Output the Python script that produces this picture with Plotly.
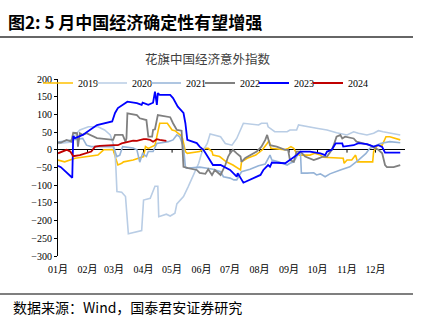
import plotly.graph_objects as go

# ---- data (x = day of year, 0 = Jan 1) ----
month_ticks = [0, 31, 59, 90, 120, 151, 181, 212, 243, 273, 304, 334]
month_labels = ["01月", "02月", "03月", "04月", "05月", "06月", "07月", "08月", "09月", "10月", "11月", "12月"]

day_2019 = [0, 7, 18, 32, 42, 48, 57, 58, 61, 63, 67, 69, 79, 86, 90, 92, 95, 102, 104, 107, 115, 118, 120, 123, 129, 131, 134,
            136, 149, 154, 158, 162, 163, 170, 177, 184, 190, 192, 193, 199, 208, 215, 220, 222, 224, 238, 242, 245, 248, 251,
            254, 265, 270, 276, 279, 293, 300, 301, 304, 309, 313, 315, 331, 332, 336, 341, 345, 349, 355, 360]
val_2019 = [-29, -34, -24, -18, -15, 0, 0, 1, -27, -43, -38, -34, -29, -24, -19, 9, 4, 13, 35, 75, 75, 65, 56, 54, 41, 32, -5,
            -10, -5, 4, 4, -5, -15, -19, -34, -43, -52, -57, -34, -24, -15, 0, 18, 26, 4, 0, 4, 9, 4, -10,
            -15, -15, -10, -15, -21, -24, -24, -38, -29, -29, -15, -34, -34, -5, 13, 13, 37, 37, 32, 28]

day_2020 = [0, 7, 15, 18, 23, 32, 42, 49, 55, 58, 60, 61, 62, 67, 71, 74, 88, 90, 97, 102, 105, 106, 114, 118, 123, 125, 132,
            137, 142, 148, 151, 157, 160, 165, 171, 176, 183, 188, 192, 195, 211, 214, 220, 221, 228, 241, 244, 251, 253, 262,
            272, 283, 293, 304, 311, 316, 325, 332, 337, 342, 351, 360]
val_2020 = [18, 20, 22, 42, 56, 65, 65, 56, 42, 18, -5, -57, -118, -120, -132, -237, -228, -142, -137, -103, -103, -189, -182,
            -187, -179, -153, -132, -104, -76, -38, -10, 18, 45, 42, 37, 18, 13, 32, 56, 75, 70, 75, 75, 65, 51, 51, 56, 56, 70,
            65, 61, 56, 48, 42, 51, 47, 42, 47, 54, 51, 47, 42]

day_2021 = [0, 8, 19, 26, 30, 35, 49, 58, 60, 62, 65, 68, 79, 83, 86, 89, 93, 95, 100, 104, 116, 121, 125, 128, 132, 134, 135,
            149, 157, 163, 171, 174, 181, 185, 188, 193, 202, 211, 218, 223, 225, 232, 241, 244, 248, 253, 255, 256, 262, 269,
            272, 276, 281, 286, 297, 307, 316, 324, 328, 339, 349, 360]
val_2021 = [22, 25, 30, 32, 13, 9, 9, 9, -5, -19, -15, 9, 5, 0, -35, -10, -19, -5, -5, 18, 23, 28, 42, 37, 9, -48, -52,
            -49, -52, -55, -62, -76, -80, -85, -85, -62, -55, -45, -40, -15, -29, -34, -43, -38, -34, -10, -5, -66, -66, -65,
            -71, -68, -76, -68, -57, -48, -29, -10, 4, 18, 23, 20]

day_2022 = [0, 3, 9, 14, 16, 20, 21, 23, 26, 30, 41, 58, 60, 68, 71, 72, 73, 83, 86, 93, 95, 99, 100, 102, 105, 114, 118, 121,
            125, 130, 132, 137, 146, 149, 155, 158, 162, 165, 171, 176, 179, 181, 184, 188, 192, 193, 197, 209, 214, 218, 220,
            223, 230, 239, 242, 244, 248, 251, 255, 260, 269, 274, 279, 283, 288, 290, 293, 297, 299, 302, 311, 314, 328, 334,
            337, 341, 344, 346, 353, 360]
val_2022 = [20, 20, 28, 23, 48, 47, 9, 47, 42, 47, 33, 28, 42, 42, 23, 32, 103, 98, 89, 84, 37, 37, 56, 58, 98, 94, 92, 75,
            56, 54, -48, -52, -57, -65, -68, -55, -71, -57, -71, -43, -19, -10, 0, -10, -19, -34, -23, -5, 9, 28, 42,
            13, 9, 0, 0, -29, -34, -5, -5, -19, -29, -24, -19, -19, 0, 13, 37, 42, 32, 37, 32, 23, 13, 4,
            0, -10, -43, -49, -49, -43]

day_2023 = [0, 3, 15, 16, 18, 26, 41, 57, 60, 63, 73, 83, 88, 89, 95, 100, 102, 104, 105, 107, 118, 121, 126, 132, 134, 136,
            146, 149, 153, 158, 163, 171, 181, 188, 189, 195, 202, 209, 213, 216, 221, 223, 225, 239, 244, 251, 255, 265, 276,
            281, 283, 288, 292, 299, 300, 311, 316, 325, 332, 337, 341, 344, 360]
val_2023 = [-45, -49, -79, 39, 33, 42, 70, 80, 104, 118, 136, 132, 127, 133, 127, 133, 164, 127, 160, 155, 155, 146, 122, 104,
            75, 28, 19, 9, 0, -23, -43, -43, -57, -76, -66, -93, -85, -76, -71, -57, -43, -48, -36, -38, -29, -15, -5, -5,
            -10, -15, -5, 0, 18, 18, 9, 13, 19, 16, 9, 13, 8, -8, -8]

day_2024 = [0, 2, 9, 13, 16, 23, 30, 35, 39, 44, 58, 63, 67, 71, 76, 79, 83, 86, 90, 93, 97, 100, 104, 107, 114]
val_2024 = [-10, -8, 0, -5, -18, -15, -8, -5, 9, 11, 13, 13, 18, 20, 23, 26, 25, 28, 30, 30, 28, 23, 30, 28, 25]

series = [
    ("2019", day_2019, val_2019, "#FFC000", 1.6),
    ("2020", day_2020, val_2020, "#B9CDE5", 1.6),
    ("2021", day_2021, val_2021, "#95B3D7", 1.6),
    ("2022", day_2022, val_2022, "#808080", 1.8),
    ("2023", day_2023, val_2023, "#0000FF", 1.8),
    ("2024", day_2024, val_2024, "#C00000", 1.8),
]

SERIF = "Liberation Serif, Times New Roman, Noto Sans CJK SC, serif"
CJK = "Noto Sans CJK SC, sans-serif"

fig = go.Figure()

# small tick marks on the zero axis at month starts
tx, ty = [], []
for m in month_ticks[1:]:
    tx += [m, m, None]
    ty += [0, -8, None]
fig.add_trace(go.Scatter(x=tx, y=ty, mode="lines", line=dict(color="black", width=1),
                         showlegend=False, hoverinfo="skip"))

for i, (name, d, v, c, w) in enumerate(series):
    tr = go.Scatter(x=d, y=v, mode="lines", name=name, line=dict(color=c, width=w))
    if i == len(series) - 1:
        tr.legendwidth = 26  # room for the last label so it is not clipped
    fig.add_trace(tr)

W, H = 429, 323
L, R, T, B = 58, 24, 79, 67
pw, ph = W - L - R, H - T - B


def px(x):
    return (x - L) / pw


def py(y):
    return (H - B - y) / ph


fig.update_layout(
    width=W, height=H,
    margin=dict(l=L, r=R, t=T, b=B, autoexpand=False),
    paper_bgcolor="white", plot_bgcolor="white",
    font=dict(family=SERIF, size=10, color="#000000"),
    showlegend=True,
    legend=dict(orientation="h", xref="container", yref="container",
                x=38 / W, y=1 - 83 / H, xanchor="left", yanchor="middle",
                bgcolor="rgba(0,0,0,0)", font=dict(family=SERIF, size=10),
                entrywidth=9, entrywidthmode="pixels", tracegroupgap=0, itemwidth=30),
    xaxis=dict(range=[0, 365], tickmode="array", tickvals=month_ticks, ticktext=month_labels,
               showgrid=False, zeroline=False, showline=False, ticks="",
               ticklabelstandoff=6,
               tickfont=dict(family=SERIF, size=10)),
    yaxis=dict(range=[-300, 200], dtick=50, tick0=0, showgrid=False,
               zeroline=True, zerolinecolor="black", zerolinewidth=1,
               showline=True, linecolor="black", linewidth=1, ticks="outside", ticklen=3,
               tickcolor="black", tickfont=dict(family=SERIF, size=10)),
    shapes=[
        dict(type="line", xref="paper", yref="paper", x0=px(0), x1=px(413), y0=py(37), y1=py(37),
             line=dict(color="#333333", width=1.5)),
        dict(type="line", xref="paper", yref="paper", x0=px(0), x1=px(413), y0=py(294), y1=py(294),
             line=dict(color="#7F7F7F", width=2)),
    ],
    annotations=[
        dict(text="<b>图2: 5 月中国经济确定性有望增强</b>", xref="paper", yref="paper",
             x=px(6), y=py(22), xanchor="left", yanchor="middle", showarrow=False,
             font=dict(family=CJK, size=17, color="#000000")),
        dict(text="花旗中国经济意外指数", xref="paper", yref="paper",
             x=px(208), y=py(59), xanchor="center", yanchor="middle", showarrow=False,
             font=dict(family=CJK, size=12.5, color="#404040")),
        dict(text="数据来源：Wind，国泰君安证券研究", xref="paper", yref="paper",
             x=px(11), y=py(307), xanchor="left", yanchor="middle", showarrow=False,
             font=dict(family=CJK, size=14, color="#000000")),
    ],
)

fig.write_html("out.html")
